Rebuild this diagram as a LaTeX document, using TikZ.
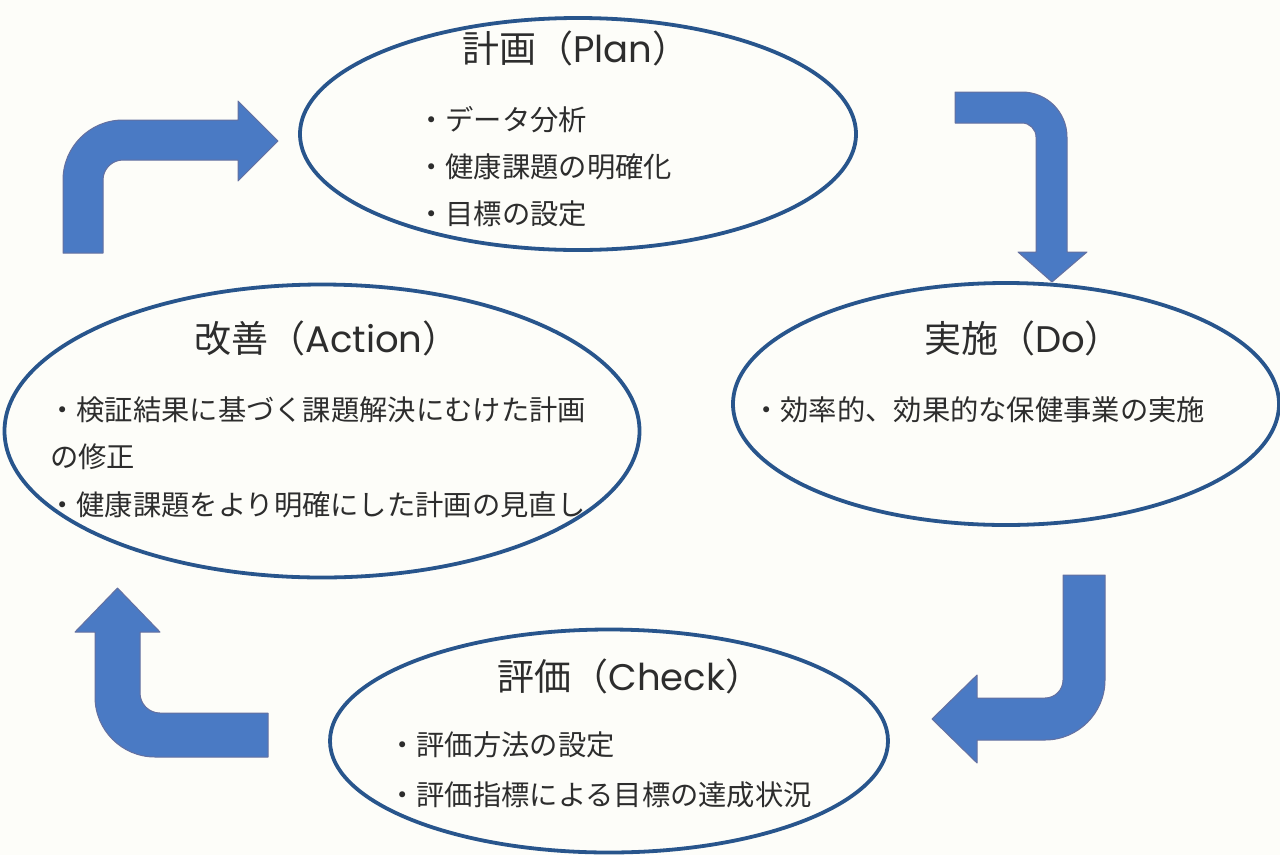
\documentclass[tikz,border=0pt]{standalone}
\usepackage{fontspec}
\setmainfont{Noto Sans CJK JP}
\newfontfamily\latinfont{Poppins}
\usetikzlibrary{shapes.geometric}
\definecolor{arrowblue}{RGB}{74,122,196}
\definecolor{arrowedge}{RGB}{100,112,160}
\definecolor{ringblue}{RGB}{40,85,140}
\definecolor{textgray}{RGB}{45,45,45}
\definecolor{paper}{RGB}{253,253,249}
\begin{document}
\begin{tikzpicture}[x=1pt,y=-1pt,
 ring/.style={ellipse, draw=ringblue, line width=3.8pt, inner sep=0pt},
 title/.style={font=\fontsize{37}{44}\selectfont, text=textgray, inner sep=0pt},
 item/.style={font=\fontsize{28.3}{34}\selectfont, text=textgray, anchor=west, inner sep=0pt},
 bentarrow/.style={fill=arrowblue, draw=arrowedge, line width=1pt, line join=round}]
\fill[paper] (0,0) rectangle (1280,855);
\useasboundingbox (0,0) rectangle (1280,855);

% ellipses
\node[ring, minimum width=556pt, minimum height=232pt] (plan) at (578,134) {};
\node[ring, minimum width=635pt, minimum height=293pt] (act) at (322,431) {};
\node[ring, minimum width=546pt, minimum height=242pt] (do) at (1006,404) {};
\node[ring, minimum width=558pt, minimum height=223pt] (chk) at (609,741) {};

% plan
\node[title] (plant) at (576,48) {計画（{\latinfont Plan}）};
\node[item] (plan1) at (417,120) {・データ分析};
\node[item] (plan2) at (417,167) {・健康課題の明確化};
\node[item] (plan3) at (417,214) {・目標の設定};

% action
\node[title] (actt) at (327,338) {改善（{\latinfont Action}）};
\node[item] (act1) at (48,410) {・検証結果に基づく課題解決にむけた計画};
\node[item] (act2) at (50,457) {の修正};
\node[item] (act3) at (48,505) {・健康課題をより明確にした計画の見直し};

% do
\node[title] (dot) at (1023,338) {実施（{\latinfont Do}）};
\node[item] (do1) at (752,410) {・効率的、効果的な保健事業の実施};

% check
\node[title] (chkt) at (630,676) {評価（{\latinfont Check}）};
\node[item] (chk1) at (388,745) {・評価方法の設定};
\node[item] (chk2) at (388,795) {・評価指標による目標の達成状況};

% bent arrows
\draw[bentarrow] (63,253) -- (63,180) .. controls (63,146.9) and (89.9,120) .. (123,120)
  -- (238,120) -- (238,101) -- (278,141) -- (238,181) -- (238,160) -- (123,160)
  .. controls (112,160) and (103,169) .. (103,180) -- (103,253) -- cycle;
\draw[bentarrow] (955,92) -- (1022,92) .. controls (1046.9,92) and (1067,112.1) .. (1067,137)
  -- (1067,252) -- (1087,252) -- (1052,282) -- (1018,252) -- (1036,252) -- (1036,137)
  .. controls (1036,129.3) and (1029.7,123) .. (1022,123) -- (955,123) -- cycle;
\draw[bentarrow] (1063,575) -- (1105,575) -- (1105,680) .. controls (1105,713.1) and (1078.1,740) .. (1045,740)
  -- (977,740) -- (977,763) -- (932,719) -- (977,675) -- (977,698) -- (1045,698)
  .. controls (1054.9,698) and (1063,689.9) .. (1063,680) -- cycle;
\draw[bentarrow] (268,713) -- (268,757) -- (155,757) .. controls (121.9,757) and (95,730.1) .. (95,697)
  -- (95,632) -- (75,632) -- (117.5,588) -- (160,632) -- (140,632) -- (140,693)
  .. controls (140,704) and (149,713) .. (160,713) -- cycle;
\end{tikzpicture}
\end{document}
